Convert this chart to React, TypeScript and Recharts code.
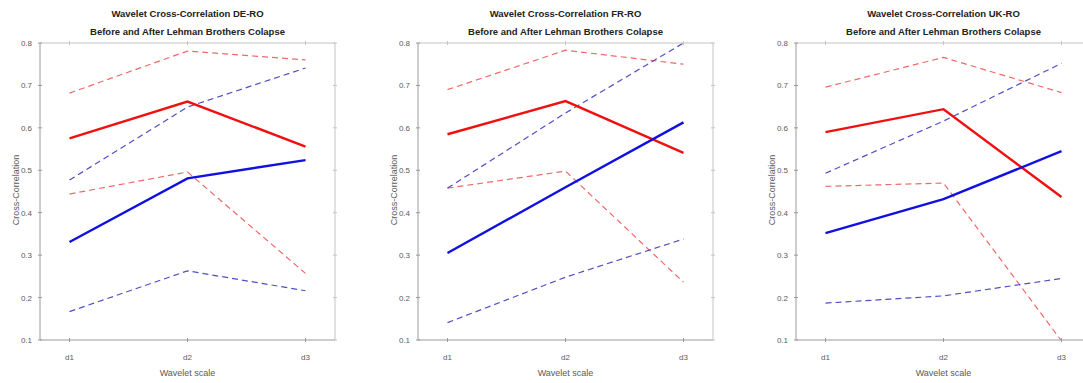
import React from "react";
import { Line, LineChart, XAxis, YAxis } from "recharts";

const scaleLabels = ["d1", "d2", "d3"];
const scalePositions = [1, 2, 3];
const yTicks = [0.1, 0.2, 0.3, 0.4, 0.5, 0.6, 0.7, 0.8];

// DE-RO
const deRed = [0.575, 0.662, 0.556];
const deRedUpper = [0.682, 0.781, 0.76];
const deRedLower = [0.444, 0.496, 0.257];
const deBlue = [0.331, 0.481, 0.524];
const deBlueUpper = [0.477, 0.649, 0.741];
const deBlueLower = [0.167, 0.263, 0.216];

// FR-RO
const frRed = [0.585, 0.663, 0.541];
const frRedUpper = [0.69, 0.783, 0.75];
const frRedLower = [0.458, 0.498, 0.236];
const frBlue = [0.305, 0.46, 0.613];
const frBlueUpper = [0.458, 0.635, 0.8];
const frBlueLower = [0.141, 0.248, 0.338];

// UK-RO
const ukRed = [0.59, 0.644, 0.437];
const ukRedUpper = [0.696, 0.766, 0.683];
const ukRedLower = [0.462, 0.47, 0.098];
const ukBlue = [0.352, 0.432, 0.545];
const ukBlueUpper = [0.493, 0.616, 0.752];
const ukBlueLower = [0.187, 0.204, 0.245];

type Series = Record<string, number[]>;

function buildRows(series: Series) {
  return scalePositions.map((x, i) => {
    const row: Record<string, number> = { x };
    for (const key of Object.keys(series)) row[key] = series[key][i];
    return row;
  });
}

const axisGrey = "#9a9a9a";
const boxGrey = "#c4c4c4";
const textGrey = "#5a5a5a";
const font = "Arial, 'Liberation Sans', sans-serif";

const BottomTick = (props: any) => {
  const { x, y, payload } = props;
  const label = scaleLabels[scalePositions.indexOf(payload.value)];
  return (
    <g>
      <line x1={x} y1={y} x2={x} y2={y - 4} stroke={axisGrey} />
      <text x={x} y={y + 18} textAnchor="middle" fontSize={8} fill={textGrey} fontFamily={font}>
        {label}
      </text>
    </g>
  );
};

const TopTick = (props: any) => {
  const { x, y } = props;
  return <line x1={x} y1={y} x2={x} y2={y + 4} stroke={boxGrey} />;
};

const LeftTick = (props: any) => {
  const { x, y, payload } = props;
  return (
    <g>
      <line x1={x} y1={y} x2={x + 4} y2={y} stroke={axisGrey} />
      <text x={x - 6} y={y + 3} textAnchor="end" fontSize={8} fill={textGrey} fontFamily={font}>
        {Number(payload.value).toFixed(1)}
      </text>
    </g>
  );
};

const RightTick = (props: any) => {
  const { x, y } = props;
  return <line x1={x} y1={y} x2={x - 4} y2={y} stroke={boxGrey} />;
};

function Panel({ left, pair, series }: { left: number; pair: string; series: Series }) {
  const rows = buildRows(series);
  const titleStyle: React.CSSProperties = {
    position: "absolute",
    left: 40,
    width: 295,
    textAlign: "center",
    fontFamily: font,
    fontWeight: "bold",
    fontSize: 9.5,
    color: "#222",
    whiteSpace: "nowrap",
  };
  const dashed = { strokeDasharray: "6 4", strokeWidth: 1.2, dot: false, isAnimationActive: false };
  const solid = { strokeWidth: 2.4, dot: false, isAnimationActive: false };
  return (
    <div style={{ position: "absolute", left, top: 0, width: 360, height: 383 }}>
      <div style={{ ...titleStyle, top: 8 }}>Wavelet Cross-Correlation {pair}</div>
      <div style={{ ...titleStyle, top: 26 }}>Before and After Lehman Brothers Colapse</div>
      <div
        style={{
          position: "absolute",
          left: 16,
          top: 190,
          transform: "translate(-50%, -50%) rotate(-90deg)",
          fontFamily: font,
          fontSize: 9,
          color: textGrey,
          whiteSpace: "nowrap",
        }}
      >
        Cross-Correlation
      </div>
      <LineChart width={360} height={383} data={rows} margin={{ top: 42, right: 24, bottom: 0, left: 0 }}>
        <XAxis
          xAxisId="b"
          dataKey="x"
          type="number"
          domain={[0.75, 3.25]}
          ticks={scalePositions}
          height={43}
          tickSize={0}
          tickLine={false}
          tick={<BottomTick />}
          axisLine={{ stroke: axisGrey }}
          allowDataOverflow
          label={{ value: "Wavelet scale", position: "insideBottom", offset: 7, fontSize: 9, fill: textGrey, fontFamily: font }}
        />
        <XAxis
          xAxisId="t"
          orientation="top"
          type="number"
          dataKey="x"
          domain={[0.75, 3.25]}
          ticks={scalePositions}
          height={1}
          tickSize={0}
          tickLine={false}
          tick={<TopTick />}
          axisLine={{ stroke: boxGrey }}
          allowDataOverflow
        />
        <YAxis
          yAxisId="l"
          type="number"
          domain={[0.1, 0.8]}
          ticks={yTicks}
          width={40}
          tickSize={0}
          tickLine={false}
          tick={<LeftTick />}
          axisLine={{ stroke: axisGrey }}
          allowDataOverflow
        />
        <YAxis
          yAxisId="r"
          orientation="right"
          type="number"
          domain={[0.1, 0.8]}
          ticks={yTicks}
          width={1}
          tickSize={0}
          tickLine={false}
          tick={<RightTick />}
          axisLine={{ stroke: boxGrey }}
          allowDataOverflow
        />
        <Line xAxisId="b" yAxisId="l" dataKey="redUpper" stroke="#ee6a6a" {...dashed} />
        <Line xAxisId="b" yAxisId="l" dataKey="redLower" stroke="#ee6a6a" {...dashed} />
        <Line xAxisId="b" yAxisId="l" dataKey="blueUpper" stroke="#4f4fc4" {...dashed} />
        <Line xAxisId="b" yAxisId="l" dataKey="blueLower" stroke="#4f4fc4" {...dashed} />
        <Line xAxisId="t" yAxisId="r" dataKey="red" stroke="#f01010" {...solid} />
        <Line xAxisId="b" yAxisId="l" dataKey="blue" stroke="#1010e0" {...solid} />
      </LineChart>
    </div>
  );
}

export default function App() {
  return (
    <div
      style={{
        position: "fixed",
        left: 0,
        top: 0,
        width: 1083,
        height: 383,
        overflow: "hidden",
        background: "#fff",
      }}
    >
      <Panel
        left={0}
        pair="DE-RO"
        series={{ red: deRed, redUpper: deRedUpper, redLower: deRedLower, blue: deBlue, blueUpper: deBlueUpper, blueLower: deBlueLower }}
      />
      <Panel
        left={378}
        pair="FR-RO"
        series={{ red: frRed, redUpper: frRedUpper, redLower: frRedLower, blue: frBlue, blueUpper: frBlueUpper, blueLower: frBlueLower }}
      />
      <Panel
        left={756}
        pair="UK-RO"
        series={{ red: ukRed, redUpper: ukRedUpper, redLower: ukRedLower, blue: ukBlue, blueUpper: ukBlueUpper, blueLower: ukBlueLower }}
      />
    </div>
  );
}
